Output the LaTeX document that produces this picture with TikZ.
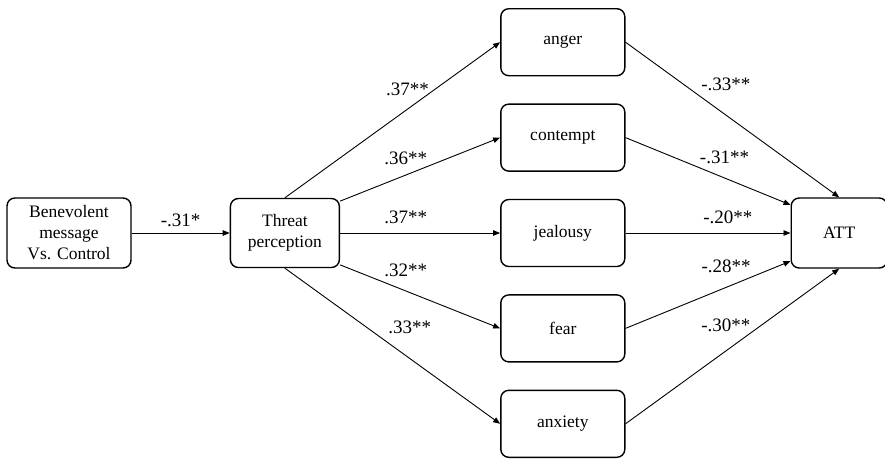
\documentclass[tikz,border=0pt]{standalone}
\usepackage{fontspec}
\setmainfont{Liberation Serif}
\usetikzlibrary{positioning,arrows.meta}

\begin{document}
\begin{tikzpicture}[
    x=1pt, y=-1pt,
    >={Triangle[length=7pt, width=5.5pt]},
    box/.style={draw, line width=1.4pt, rounded corners=8pt, align=center, font=\fontsize{17.5}{21}\selectfont, minimum height=69pt},
    emotion/.style={box, minimum width=124pt, minimum height=67pt},
    coef/.style={font=\fontsize{19}{21}\selectfont},
    arrow/.style={->, line width=0.9pt},
]
\useasboundingbox (0,0) rectangle (885,458);
\node[box, minimum width=124pt, minimum height=70pt] (bene) at (69,233) {Benevolent\\message\\Vs. Control};
\node[box, minimum width=109pt, right=98pt of bene] (threat) {Threat\\perception};
\node[emotion, right=160pt of threat] (jealousy) {jealousy};
\node[emotion, above=27pt of jealousy] (contempt) {contempt};
\node[emotion, above=27pt of contempt] (anger) {anger};
\node[emotion, below=27pt of jealousy] (fear) {fear};
\node[emotion, below=27pt of fear] (anxiety) {anxiety};
\node[box, minimum width=96pt, minimum height=70pt, right=165pt of jealousy] (att) {ATT};
\draw[arrow] (bene) -- node[coef, above=2pt] {-.31*} (threat);
% threat perception -> emotions
\draw[arrow] (threat.north) -- node[coef, pos=0.57, above=10pt] {.37**} (anger.west);
\draw[arrow] (threat.30) -- node[coef, pos=0.41, above=7pt] {.36**} (contempt.west);
\draw[arrow] (threat.east) -- node[coef, pos=0.41, above=5pt] {.37**} (jealousy.west);
\draw[arrow] (threat.-30) -- node[coef, pos=0.41, above=10pt] {.32**} (fear.west);
\draw[arrow] (threat.south) -- node[coef, pos=0.58, above=21pt] {.33**} (anxiety.west);
% emotions -> ATT
\draw[arrow] (anger.east) -- node[coef, pos=0.47, above=21pt] {-.33**} (att.north);
\draw[arrow] (contempt.east) -- node[coef, pos=0.6, above=10pt] {-.31**} (att.150);
\draw[arrow] (jealousy.east) -- node[coef, pos=0.62, above=5pt] {-.20**} (att.west);
\draw[arrow] (fear.east) -- node[coef, pos=0.61, above=11pt] {-.28**} (att.210);
\draw[arrow] (anxiety.east) -- node[coef, pos=0.47, above=15pt] {-.30**} (att.south);
\end{tikzpicture}
\end{document}
